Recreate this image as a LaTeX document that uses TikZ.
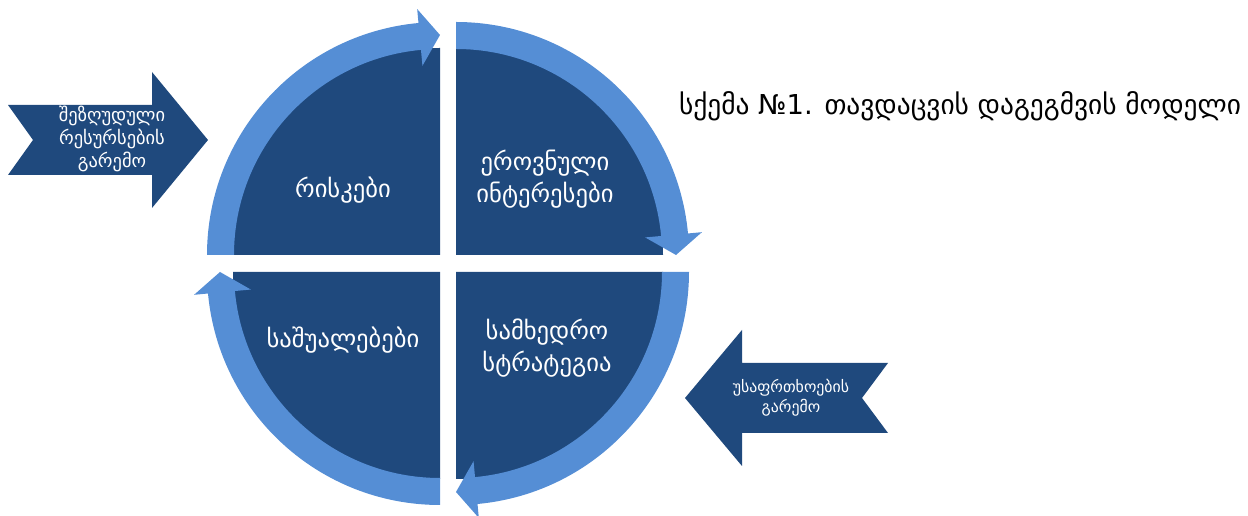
\documentclass[tikz,border=0pt]{standalone}
\usepackage{fontspec}
\setmainfont{DejaVu Sans}
\usepackage{xcolor}
\usepackage{tikz}
\definecolor{darkblue}{RGB}{31, 73, 125}
\definecolor{ringblue}{RGB}{85, 142, 213}

\begin{document}
\begin{tikzpicture}[x=0.02cm, y=0.02cm]
    % Define styles
    \tikzstyle{quadrant} = [fill=darkblue]
    \tikzstyle{ring} = [fill=ringblue]
    \tikzstyle{sidearrow} = [fill=darkblue]
    \tikzstyle{label} = [text=white, align=center, font=\fontsize{14}{18}\selectfont]
    \tikzstyle{small} = [text=white, align=center, font=\fontsize{10.5}{13.3}\selectfont]

    \useasboundingbox (0,0) rectangle (1248,516);

    % Quadrants with their ring arrows
    \foreach \cx/\cy/\a in {440/261/90, 456/261/0, 456/244/-90, 440/244/-180} {
        \begin{scope}[shift={(\cx,\cy)}]
            \fill [quadrant] (0,0) -- (\a+90:207) arc [start angle=\a+90, end angle=\a, radius=207] -- cycle;
            \fill [ring] (\a+90:233) arc [start angle=\a+90, end angle=\a+5.3, radius=233]
                -- (\a+5.3:247) -- (\a:220) -- (\a+5.3:190) -- (\a+5.3:206)
                arc [start angle=\a+5.3, end angle=\a+90, radius=206] -- cycle;
        \end{scope}
    }

    % Side arrows
    \fill [sidearrow] (8,411) -- (152,411) -- (152,444) -- (208,376) -- (152,308) -- (152,341) -- (8,341) -- (33,376) -- cycle;
    \fill [sidearrow] (888,153) -- (742,153) -- (742,186) -- (685,118) -- (742,50) -- (742,83) -- (888,83) -- (862,118) -- cycle;

    % Nodes
    \node [small] (limres) at (112,377) {შეზღუდული\\რესურსების\\გარემო};
    \node [label] (risks) at (343,326) {რისკები};
    \node [label] (interests) at (545,337) {ეროვნული\\ინტერესები};
    \node [label] (means) at (343,176) {საშუალებები};
    \node [label] (strategy) at (547,168) {სამხედრო\\სტრატეგია};
    \node [small, font=\fontsize{9}{11.5}\selectfont] (threats) at (791,118) {უსაფრთხოების\\გარემო};
    \node [font=\fontsize{15.6}{18}\selectfont] (title) at (960,410) {სქემა №1. თავდაცვის დაგეგმვის მოდელი};
\end{tikzpicture}
\end{document}
